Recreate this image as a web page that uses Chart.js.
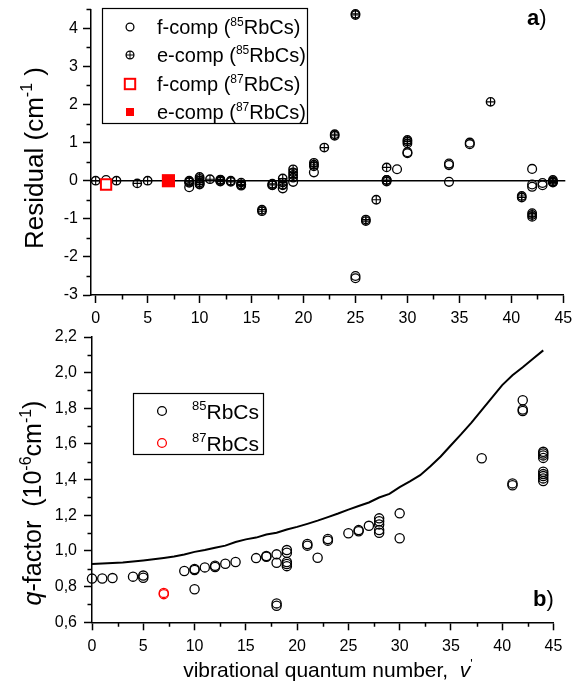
<!DOCTYPE html>
<html>
<head>
<meta charset="utf-8">
<script src="https://cdn.jsdelivr.net/npm/chart.js@4.4.1/dist/chart.umd.min.js"></script>
<style>
  html, body { margin: 0; padding: 0; background: #fff; }
  #wrap { position: relative; width: 574px; height: 698px; }
  #wrap canvas { position: absolute; left: 0; top: 0; }
</style>
</head>
<body>
<div id="wrap">
  <canvas id="residual" width="574" height="698"></canvas>
  <canvas id="qfactor" width="574" height="698"></canvas>
</div>
<script>
const FONT = "'Liberation Sans', Arial, sans-serif";

// a) residuals (cm-1), 85RbCs
const fVib85 = [1, 9, 9, 10, 12, 14, 17, 18, 18, 19, 21, 25, 25, 28, 29, 30, 30, 34, 34, 34, 36, 36, 42, 42, 42, 43, 43, 44];
const fRes85 = [0.02, -0.17, -0.05, -0.08, 0.0, -0.1, -0.12, -0.2, -0.1, -0.03, 0.22, -2.5, -2.56, 0.02, 0.3, 0.75, 0.72, 0.45, 0.41, -0.03, 1.0, 0.96, 0.31, -0.1, -0.16, -0.06, -0.12, -0.03];
const eVib85 = [0, 2, 4, 5, 9, 9, 10, 10, 10, 10, 10, 11, 12, 12, 12, 13, 13, 14, 14, 14, 16, 16, 17, 17, 18, 18, 18, 19, 19, 19, 19, 21, 21, 21, 22, 23, 23, 25, 25, 26, 26, 27, 28, 28, 28, 30, 30, 30, 38, 41, 41, 42, 42, 42, 44, 44, 44];
const eRes85 = [0, 0, -0.07, 0, 0, -0.03, 0.1, 0.05, 0, -0.05, -0.1, 0.04, 0.03, -0.02, 0.02, -0.03, 0, -0.05, -0.1, -0.13, -0.76, -0.8, -0.11, -0.08, 0.06, -0.05, -0.12, 0.3, 0.22, 0.15, 0.08, 0.47, 0.42, 0.38, 0.87, 1.22, 1.18, 4.38, 4.35, -1.02, -1.06, -0.5, 0.35, 0.02, -0.02, 1.07, 1.03, 0.98, 2.07, -0.4, -0.44, -0.85, -0.9, -0.95, 0.02, -0.02, -0.05];
// a) residuals, 87RbCs
const fVib87 = [1];
const fRes87 = [-0.1];
const eVib87 = [7];
const eRes87 = [0.0];

// b) q-factor (10^-6 cm-1)
const qVib85 = [0, 1, 2, 4, 5, 5, 9, 10, 10, 10, 11, 12, 12, 13, 14, 16, 17, 17, 18, 18, 18, 18, 19, 19, 19, 19, 19, 21, 21, 22, 23, 23, 25, 26, 26, 27, 28, 28, 28, 28, 28, 30, 30, 38, 41, 41, 42, 42, 42, 44, 44, 44, 44, 44, 44, 44, 44, 44];
const qVal85 = [0.845, 0.846, 0.848, 0.856, 0.862, 0.85, 0.888, 0.893, 0.899, 0.785, 0.908, 0.917, 0.91, 0.928, 0.938, 0.96, 0.968, 0.972, 0.981, 0.934, 0.706, 0.693, 1.005, 0.99, 0.938, 0.927, 0.915, 1.039, 1.03, 0.962, 1.067, 1.058, 1.099, 1.111, 1.117, 1.141, 1.183, 1.167, 1.149, 1.117, 1.102, 1.211, 1.071, 1.52, 1.379, 1.369, 1.845, 1.785, 1.793, 1.556, 1.547, 1.536, 1.522, 1.444, 1.431, 1.42, 1.407, 1.392];
const qVib87 = [7, 7];
const qVal87 = [0.758, 0.765];
// calculated q-factor curve
const calcVib = [0, 1, 2, 3, 4, 5, 6, 7, 8, 9, 10, 11, 12, 13, 14, 15, 16, 17, 18, 19, 20, 21, 22, 23, 24, 25, 26, 27, 28, 29, 30, 31, 32, 33, 34, 35, 36, 37, 38, 39, 40, 41, 42, 43, 44];
const calcQ = [0.927, 0.930, 0.933, 0.936, 0.941, 0.947, 0.954, 0.961, 0.969, 0.980, 0.995, 1.005, 1.018, 1.030, 1.050, 1.065, 1.075, 1.092, 1.102, 1.120, 1.135, 1.152, 1.170, 1.190, 1.210, 1.232, 1.252, 1.272, 1.300, 1.320, 1.358, 1.390, 1.425, 1.475, 1.530, 1.593, 1.655, 1.720, 1.790, 1.860, 1.930, 1.985, 2.030, 2.078, 2.125];

// tick values
const vibTicks = [0, 5, 10, 15, 20, 25, 30, 35, 40, 45];
const resTicks = [-3, -2, -1, 0, 1, 2, 3, 4];
const qTicks = [0.6, 0.8, 1.0, 1.2, 1.4, 1.6, 1.8, 2.0, 2.2];

const pts = (xs, ys) => xs.map((x, i) => ({ x: x, y: ys[i] }));
const steps = (from, to, step) => {
  const out = [];
  for (let v = from; v <= to + 1e-9; v += step) out.push(+v.toFixed(3));
  return out;
};

// text with superscripts / italics, parts = [{t, sup, italic, bold}]
function richText(ctx, parts, x, y, size, align) {
  const supSize = Math.round(size * 0.62);
  const fontOf = p => (p.italic ? 'italic ' : '') + (p.bold ? 'bold ' : '') + (p.sup ? supSize : size) + 'px ' + FONT;
  let w = 0;
  for (const p of parts) { ctx.font = fontOf(p); w += ctx.measureText(p.t).width; }
  let cx = align === 'center' ? x - w / 2 : x;
  ctx.textAlign = 'left';
  ctx.textBaseline = 'alphabetic';
  ctx.fillStyle = '#000';
  for (const p of parts) {
    ctx.font = fontOf(p);
    ctx.fillText(p.t, cx, p.sup ? y - size * 0.42 : y);
    cx += ctx.measureText(p.t).width;
  }
}

const minorTicks = {
  id: 'minorTicks',
  afterDraw(chart, args, opts) {
    const { ctx } = chart;
    const xs = chart.scales.x, ys = chart.scales.y;
    ctx.save();
    ctx.strokeStyle = '#000';
    ctx.lineWidth = 1.5;
    ctx.beginPath();
    for (const v of opts.x) {
      const px = Math.round(xs.getPixelForValue(v)) + 0.5;
      ctx.moveTo(px, xs.top); ctx.lineTo(px, xs.top + 4.5);
    }
    for (const v of opts.y) {
      const py = Math.round(ys.getPixelForValue(v)) + 0.5;
      ctx.moveTo(ys.right, py); ctx.lineTo(ys.right - 4.5, py);
    }
    ctx.stroke();
    ctx.restore();
  }
};

function axisX(min, height, pad) {
  return {
    type: 'linear', min: min, max: 45,
    afterBuildTicks: ax => { ax.ticks = vibTicks.map(v => ({ value: v })); },
    afterFit: ax => { ax.height = height; ax.paddingLeft = 0; ax.paddingRight = 0; },
    grid: { drawOnChartArea: false, tickLength: 8, tickWidth: 1.5, tickColor: '#000' },
    border: { color: '#000', width: 1.5 },
    ticks: { color: '#000', font: { family: FONT, size: 16 }, padding: pad, maxRotation: 0, autoSkip: false, callback: v => String(v) }
  };
}

function axisY(min, max, ticks, width, pad, fmt) {
  return {
    type: 'linear', min: min, max: max,
    afterBuildTicks: ax => { ax.ticks = ticks.map(v => ({ value: v })); },
    afterFit: ax => { ax.width = width; ax.paddingTop = 0; ax.paddingBottom = 0; },
    grid: { drawOnChartArea: false, tickLength: 8, tickWidth: 1.5, tickColor: '#000' },
    border: { color: '#000', width: 1.5 },
    ticks: { color: '#000', font: { family: FONT, size: 16 }, padding: pad, autoSkip: false, callback: fmt }
  };
}

// ---------- a) residuals ----------
const residualDecor = {
  id: 'residualDecor',
  beforeDatasetsDraw(chart) {
    const { ctx, chartArea } = chart;
    const y0 = chart.scales.y.getPixelForValue(0);
    const xEnd = chart.scales.x.getPixelForValue(45);
    ctx.save();
    ctx.strokeStyle = '#000';
    ctx.lineWidth = 1.5;
    ctx.beginPath();
    ctx.moveTo(chartArea.left, y0);
    ctx.lineTo(xEnd + 2, y0);
    ctx.stroke();
    ctx.restore();
  },
  afterDraw(chart) {
    const { ctx } = chart;
    ctx.save();
    // legend box
    ctx.strokeStyle = '#000';
    ctx.lineWidth = 1.2;
    ctx.strokeRect(102.5, 8.5, 205, 115);
    const sx = 130, tx = 157, size = 20;
    const rows = [27, 55, 84, 112];
    // open circle
    ctx.lineWidth = 1.3;
    ctx.beginPath(); ctx.arc(sx, rows[0], 3.9, 0, Math.PI * 2); ctx.stroke();
    // circle with plus
    ctx.beginPath(); ctx.arc(sx, rows[1], 3.9, 0, Math.PI * 2); ctx.stroke();
    ctx.lineWidth = 1;
    ctx.beginPath();
    ctx.moveTo(sx - 3.9, rows[1]); ctx.lineTo(sx + 3.9, rows[1]);
    ctx.moveTo(sx, rows[1] - 3.9); ctx.lineTo(sx, rows[1] + 3.9);
    ctx.stroke();
    // open red square
    ctx.strokeStyle = '#f00';
    ctx.lineWidth = 2;
    ctx.strokeRect(sx - 5.2, rows[2] - 5.2, 10.4, 10.4);
    // filled red square
    ctx.fillStyle = '#f00';
    ctx.fillRect(sx - 4, rows[3] - 4, 8, 8);

    const labels = [['f-comp (', '85'], ['e-comp (', '85'], ['f-comp (', '87'], ['e-comp (', '87']];
    labels.forEach((l, i) => {
      richText(ctx, [{ t: l[0] }, { t: l[1], sup: true }, { t: 'RbCs)' }], tx, rows[i] + 7, size);
    });

    // panel tag
    richText(ctx, [{ t: 'a', bold: true }, { t: ')' }], 527, 25, 22);

    // y title
    ctx.translate(43, 158);
    ctx.rotate(-Math.PI / 2);
    richText(ctx, [{ t: 'Residual (cm' }, { t: '-1', sup: true }, { t: ' )' }], 0, 0, 26, 'center');
    ctx.restore();
  }
};

const ePoints = pts(eVib85, eRes85);

new Chart(document.getElementById('residual'), {
  type: 'scatter',
  data: {
    datasets: [
      { data: pts(fVib85, fRes85), pointStyle: 'circle', pointRadius: 4.4, pointBorderWidth: 1.3, pointBorderColor: '#000', pointBackgroundColor: 'rgba(0,0,0,0)', order: 4, clip: false },
      // e-components: ring plus cross
      { data: ePoints, pointStyle: 'circle', pointRadius: 4.2, pointBorderWidth: 1.4, pointBorderColor: '#000', pointBackgroundColor: 'rgba(0,0,0,0)', order: 3, clip: false },
      { data: ePoints, pointStyle: 'cross', pointRadius: 4.2, pointBorderWidth: 1.1, pointBorderColor: '#000', order: 2, clip: false },
      { data: pts(fVib87, fRes87), pointStyle: 'rect', pointRadius: 7.3, pointBorderWidth: 2, pointBorderColor: '#f00', pointBackgroundColor: '#fff', order: 1, clip: false },
      { data: pts(eVib87, eRes87), pointStyle: 'rect', pointRadius: 9.3, pointBorderWidth: 0, pointBorderColor: '#f00', pointBackgroundColor: '#f00', order: 0, clip: false }
    ]
  },
  options: {
    responsive: false,
    animation: false,
    events: [],
    layout: { padding: { top: 7.5, right: 10.7, bottom: 358, left: 0 } },
    plugins: {
      legend: { display: false },
      tooltip: { enabled: false },
      minorTicks: { x: steps(2.5, 42.5, 5), y: steps(-2.5, 4.5, 1) }
    },
    scales: {
      x: axisX(-0.45, 45, 6),
      y: axisY(-3, 4.5, resTicks, 91, 5, v => String(v))
    }
  },
  plugins: [minorTicks, residualDecor]
});

// ---------- b) q-factor ----------
const qDecor = {
  id: 'qDecor',
  afterDraw(chart) {
    const { ctx } = chart;
    ctx.save();
    // legend box
    ctx.strokeStyle = '#000';
    ctx.lineWidth = 1.2;
    ctx.strokeRect(133.5, 393.5, 130, 61);
    const sx = 162, size = 21;
    const rows = [411, 443];
    ctx.lineWidth = 1.3;
    ctx.beginPath(); ctx.arc(sx, rows[0], 4.4, 0, Math.PI * 2); ctx.stroke();
    ctx.strokeStyle = '#f00';
    ctx.beginPath(); ctx.arc(sx, rows[1], 4.4, 0, Math.PI * 2); ctx.stroke();
    richText(ctx, [{ t: '85', sup: true }, { t: 'RbCs' }], 192, rows[0] + 7.5, size);
    richText(ctx, [{ t: '87', sup: true }, { t: 'RbCs' }], 192, rows[1] + 7.5, size);

    // panel tag
    richText(ctx, [{ t: 'b', bold: true }, { t: ')' }], 533, 606, 22);

    // x title
    richText(ctx, [{ t: 'vibrational quantum number,  ' }, { t: 'v', italic: true }, { t: "'", sup: true }], 328, 677, 21, 'center');

    // y title
    ctx.translate(41, 503);
    ctx.rotate(-Math.PI / 2);
    richText(ctx, [{ t: 'q', italic: true }, { t: '-factor  (10' }, { t: '-6', sup: true }, { t: 'cm' }, { t: '-1', sup: true }, { t: ')' }], 0, 0, 25, 'center');
    ctx.restore();
  }
};

new Chart(document.getElementById('qfactor'), {
  type: 'scatter',
  data: {
    datasets: [
      { type: 'line', data: pts(calcVib, calcQ), showLine: true, borderColor: '#000', borderWidth: 2, pointRadius: 0, tension: 0, fill: false, order: 2, clip: false },
      { data: pts(qVib85, qVal85), pointStyle: 'circle', pointRadius: 4.6, pointBorderWidth: 1.3, pointBorderColor: '#000', pointBackgroundColor: 'rgba(0,0,0,0)', order: 1, clip: false },
      { data: pts(qVib87, qVal87), pointStyle: 'circle', pointRadius: 4.6, pointBorderWidth: 1.3, pointBorderColor: '#f00', pointBackgroundColor: 'rgba(0,0,0,0)', order: 0, clip: false }
    ]
  },
  options: {
    responsive: false,
    animation: false,
    events: [],
    layout: { padding: { top: 337, right: 20.5, bottom: 0, left: 0 } },
    plugins: {
      legend: { display: false },
      tooltip: { enabled: false },
      minorTicks: { x: steps(2.5, 42.5, 5), y: steps(0.7, 2.1, 0.2) }
    },
    scales: {
      x: axisX(0, 75.7, 7),
      y: axisY(0.6, 2.2, qTicks, 92, 7, v => v.toFixed(1).replace('.', ','))
    }
  },
  plugins: [minorTicks, qDecor]
});
</script>
</body>
</html>
